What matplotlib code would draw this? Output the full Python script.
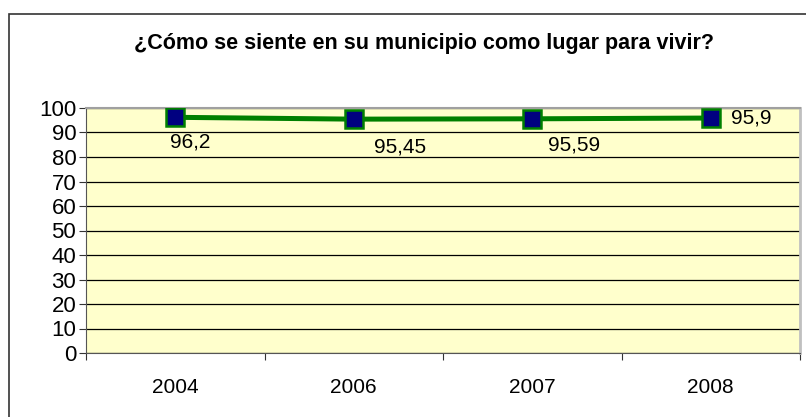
import matplotlib
matplotlib.use("Agg")
import matplotlib.pyplot as plt
from matplotlib.patches import Rectangle

plt.rcParams['font.family'] = ['Liberation Sans', 'DejaVu Sans']

years = ["2004", "2006", "2007", "2008"]
values = [96.2, 95.45, 95.59, 95.9]
value_labels = ["96,2", "95,45", "95,59", "95,9"]
# label offsets in pixels (dx, dy) as placed in the original chart
label_offsets = [(15, -25), (46, -28), (42, -26), (40, 0)]

fig = plt.figure(figsize=(8.06, 4.17), dpi=100)

# outer chart frame (runs off the right and bottom edge)
fig.patches.append(Rectangle((9 / 806, -0.1), 1.2, 1.1 - 14 / 417,
                             transform=fig.transFigure, fill=False,
                             edgecolor="#333333", linewidth=1.2))

ax = fig.add_axes([86 / 806, 64 / 417, 714 / 806, 245 / 417])
ax.set_facecolor("#FFFFCC")

x = list(range(len(years)))
ax.plot(x, values, color="#008000", linewidth=3.6,
        marker="s", markersize=13, markerfacecolor="#000080",
        markeredgecolor="#008000", markeredgewidth=1.8, zorder=3)

for xi, v, lab, (dx, dy) in zip(x, values, value_labels, label_offsets):
    ax.annotate(lab, (xi, v), xytext=(dx, dy), textcoords="offset pixels",
                ha="center", va="center", fontsize=15, color="black")

ax.set_xlim(-0.5, len(years) - 0.5)
ax.set_ylim(0, 100)
ax.set_yticks(range(0, 101, 10))
ax.tick_params(axis="y", labelsize=16, length=5, color="#333333", pad=2)

ax.set_xticks([i - 0.5 for i in range(len(years) + 1)])
ax.set_xticklabels([])
ax.set_xticks(x, minor=True)
ax.set_xticklabels(years, minor=True)
ax.tick_params(axis="x", which="major", length=5, color="#333333")
ax.tick_params(axis="x", which="minor", length=0, labelsize=15, pad=18)

ax.grid(axis="y", color="black", linewidth=0.9)
ax.set_axisbelow(True)

ax.spines["left"].set_color("#555555")
ax.spines["bottom"].set_color("#555555")
ax.spines["top"].set_color("#A0A0A0")
ax.spines["right"].set_color("#C0C0C0")
ax.spines["right"].set_linewidth(2)
ax.spines["top"].set_linewidth(1.5)

fig.text(424 / 806, 1 - 43 / 417, "¿Cómo se siente en su municipio como lugar para vivir?",
         ha="center", va="center", fontsize=15.5, fontweight="bold")

fig.savefig("out.png", dpi=100)
